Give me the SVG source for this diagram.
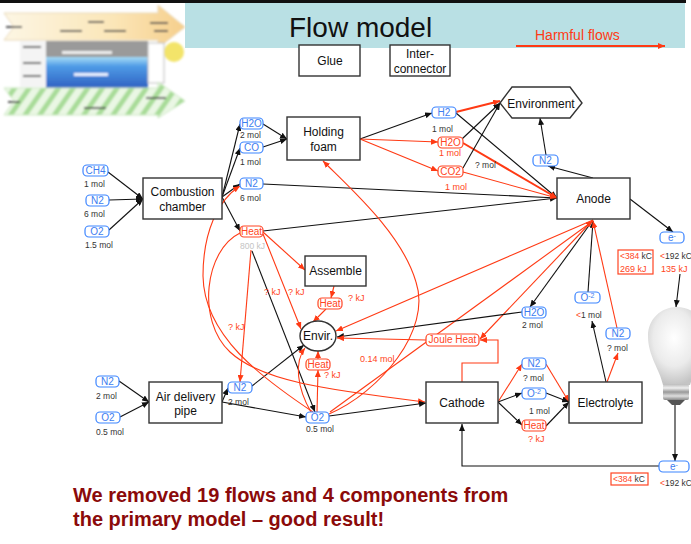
<svg xmlns="http://www.w3.org/2000/svg" width="691" height="544" viewBox="0 0 691 544">
<style>
  text { font-family: "Liberation Sans", Arial, sans-serif; }
  .box { fill: #fff; stroke: #333; stroke-width: 1.4; }
  .bt { font-size: 12px; fill: #111; text-anchor: middle; }
  .pb { fill: #fff; stroke: #3d85ff; stroke-width: 1.2; }
  .pr { fill: #fff; stroke: #ff4422; stroke-width: 1.2; }
  .tb { font-size: 10px; fill: #3d7df0; text-anchor: middle; }
  .tr { font-size: 10px; fill: #ff4422; text-anchor: middle; }
  .lbl { font-size: 8.5px; fill: #333; }
  .lr { font-size: 9px; fill: #ff4422; }
  .k { fill: none; stroke: #111; stroke-width: 1.1; marker-end: url(#ab); }
  .r { fill: none; stroke: #ff3a14; stroke-width: 1.1; marker-end: url(#ar); }
  .rt { fill: none; stroke: #ff3a14; stroke-width: 2; marker-end: url(#ar); }
</style>
<defs>
  <marker id="ab" markerUnits="userSpaceOnUse" markerWidth="7" markerHeight="6" refX="7" refY="3" orient="auto">
    <path d="M0,0 L7,3 L0,6 z" fill="#111"/>
  </marker>
  <marker id="ar" markerUnits="userSpaceOnUse" markerWidth="7" markerHeight="6" refX="7" refY="3" orient="auto">
    <path d="M0,0 L7,3 L0,6 z" fill="#ff3a14"/>
  </marker>
  <filter id="soft" x="-5%" y="-5%" width="110%" height="110%">
    <feGaussianBlur stdDeviation="1.1"/>
  </filter>
  <linearGradient id="fuel" x1="0" y1="0" x2="1" y2="0">
    <stop offset="0" stop-color="#fdf6e4"/>
    <stop offset="0.6" stop-color="#fbe6b8"/>
    <stop offset="1" stop-color="#f6cf8c"/>
  </linearGradient>
  <linearGradient id="elec" x1="0" y1="0" x2="0" y2="1">
    <stop offset="0" stop-color="#a8dcf6"/>
    <stop offset="0.3" stop-color="#4f9be6"/>
    <stop offset="1" stop-color="#2f62c2"/>
  </linearGradient>
  <pattern id="stripes" patternUnits="userSpaceOnUse" width="12" height="12" patternTransform="rotate(35)">
    <rect width="12" height="12" fill="#eaf7e4"/>
    <rect width="5" height="12" fill="#a8dc98"/>
  </pattern>
  <radialGradient id="glass" cx="0.45" cy="0.4" r="0.6">
    <stop offset="0" stop-color="#ffffff"/>
    <stop offset="0.6" stop-color="#ebebeb"/>
    <stop offset="1" stop-color="#c4c4c4"/>
  </radialGradient>
  <linearGradient id="screw" x1="0" y1="0" x2="0" y2="1">
    <stop offset="0" stop-color="#bbb"/>
    <stop offset="0.25" stop-color="#eee"/>
    <stop offset="0.5" stop-color="#999"/>
    <stop offset="0.75" stop-color="#ddd"/>
    <stop offset="1" stop-color="#888"/>
  </linearGradient>
</defs>

<rect width="691" height="544" fill="#fff"/>

<!-- header band -->
<rect x="185" y="3" width="500" height="45" fill="#b9e0e4"/>
<rect x="0" y="0" width="686" height="3" fill="#111"/>
<text x="289" y="37" font-size="28" fill="#111">Flow model</text>
<text x="535" y="40" font-size="14" fill="#ff3a14">Harmful flows</text>
<line x1="516" y1="46" x2="665" y2="46" stroke="#ff3a14" stroke-width="2" marker-end="url(#ar)"/>

<!-- fuel cell sketch, top left -->
<g id="cell-sketch" filter="url(#soft)">
  <polygon points="4,13 158,13 158,5 185,27 158,48 158,40 4,40 14,27" fill="url(#fuel)" stroke="#e8d8b8" stroke-width="1"/>
  <rect x="20" y="41" width="26" height="46" fill="#f4f4f4"/>
  <rect x="46" y="41" width="102" height="16" fill="#9a9a9a"/>
  <rect x="46" y="57" width="102" height="31" fill="url(#elec)"/>
  <rect x="148" y="43" width="16" height="40" fill="#fff" stroke="#bbb" stroke-width="1"/>
  <circle cx="174" cy="52" r="10" fill="#f3e46a"/>
  <polygon points="4,88 158,88 158,82 185,101 158,118 158,115 4,115 14,101" fill="url(#stripes)" stroke="#cde8c4" stroke-width="1"/>
  <g fill="#555">
    <rect x="6" y="26" width="16" height="2"/>
    <rect x="88" y="21" width="16" height="2"/>
    <rect x="60" y="30" width="22" height="2"/>
    <rect x="104" y="30" width="22" height="2"/>
    <rect x="150" y="22" width="18" height="2"/>
    <rect x="154" y="30" width="14" height="2"/>
    <rect x="23" y="46" width="18" height="2"/>
    <rect x="23" y="62" width="18" height="2"/>
    <rect x="23" y="75" width="18" height="2"/>
    <rect x="8" y="101" width="12" height="2"/>
    <rect x="84" y="107" width="22" height="2"/>
    <rect x="146" y="97" width="20" height="2"/>
  </g>
  <rect x="62" y="51" width="50" height="3" fill="#eee"/>
  <rect x="74" y="73" width="34" height="3" fill="#e8f0ff"/>
</g>

<!-- connectors -->
<g id="connectors">
  <!-- combustion inputs / outputs -->
  <line class="k" x1="108" y1="172" x2="143" y2="199"/>
  <line class="k" x1="109" y1="200" x2="143" y2="199"/>
  <line class="k" x1="109" y1="230" x2="143" y2="199"/>
  <line class="k" x1="222" y1="197" x2="240" y2="124"/>
  <line class="k" x1="222" y1="197" x2="240" y2="148"/>
  <line class="k" x1="222" y1="197" x2="240" y2="184"/>
  <line class="k" x1="222" y1="197" x2="240" y2="231"/>
  <line class="k" x1="263" y1="124" x2="287" y2="139"/>
  <line class="k" x1="263" y1="147" x2="287" y2="139"/>
  <!-- to anode -->
  <line class="k" x1="263" y1="184" x2="557" y2="198"/>
  <line class="k" x1="263" y1="231" x2="557" y2="198"/>
  <line class="k" x1="360" y1="139" x2="432" y2="113"/>
  <line class="k" x1="456" y1="113" x2="557" y2="198"/>
  <line class="r" x1="360" y1="139" x2="438" y2="142"/>
  <line class="r" x1="360" y1="139" x2="438" y2="171"/>
  <line class="rt" x1="456" y1="112" x2="500" y2="101"/>
  <line class="rt" x1="463" y1="143" x2="557" y2="198"/>
  <line class="r" x1="463" y1="172" x2="557" y2="198"/>
  <line class="k" x1="462" y1="139" x2="500" y2="103"/>
  <line class="k" x1="463" y1="168" x2="500" y2="103"/>
  <!-- anode neighbours -->
  <line class="k" x1="593" y1="178" x2="548" y2="166"/>
  <line class="k" x1="546" y1="155" x2="540" y2="118"/>
  <line class="k" x1="630" y1="199" x2="673" y2="232"/>
  <line class="k" x1="593" y1="220" x2="530" y2="307"/>
  <line class="k" x1="588" y1="292" x2="593" y2="221"/>
  <line class="k" x1="606" y1="382" x2="592" y2="321"/>
  <line class="r" x1="617" y1="328" x2="593" y2="221"/>
  <line class="r" x1="607" y1="382" x2="618" y2="353"/>
  <line class="r" x1="593" y1="220" x2="336" y2="331"/>
  <line class="r" x1="593" y1="220" x2="480" y2="339"/>
  <line class="r" x1="330" y1="412" x2="593" y2="221"/>
  <!-- envir inputs -->
  <line class="k" x1="522" y1="312" x2="337" y2="337"/>
  <polyline class="r" points="462,382 462,363 498,363 498,340 480,340"/>
  <line class="r" x1="426" y1="340" x2="337" y2="338"/>
  <line class="k" x1="252" y1="386" x2="304" y2="345"/>
  <line class="r" x1="263" y1="232" x2="305" y2="270"/>
  <line class="r" x1="263" y1="234" x2="301" y2="329"/>
  <line class="r" x1="251" y1="250" x2="240" y2="382"/>
  <line class="k" x1="252" y1="251" x2="315" y2="412"/>
  <line class="r" x1="334" y1="286" x2="331" y2="298"/>
  <line class="r" x1="326" y1="309" x2="313" y2="322"/>
  <line class="r" x1="317" y1="412" x2="318" y2="370"/>
  <line class="r" x1="318" y1="359" x2="318" y2="351"/>
  <path class="r" d="M311,412 C297,388 294,362 305,348"/>
  <!-- long red curves -->
  <path class="r" d="M313,412 C262,378 204,336 203,276 C203,232 218,200 240,186"/>
  <path class="r" d="M240,233 C205,250 196,320 230,352 C262,382 330,390 425,402"/>
  <path class="r" d="M329,414 C380,392 432,330 416,282 C402,234 352,190 323,161"/>
  <!-- air side -->
  <line class="k" x1="119" y1="381" x2="149" y2="402"/>
  <line class="k" x1="120" y1="417" x2="149" y2="402"/>
  <line class="k" x1="222" y1="402" x2="228" y2="388"/>
  <line class="k" x1="222" y1="402" x2="306" y2="417"/>
  <line class="k" x1="329" y1="416" x2="426" y2="403"/>
  <!-- cathode / electrolyte -->
  <line class="r" x1="498" y1="402" x2="522" y2="364"/>
  <line class="k" x1="498" y1="402" x2="522" y2="393"/>
  <line class="k" x1="498" y1="402" x2="522" y2="425"/>
  <line class="r" x1="546" y1="364" x2="569" y2="402"/>
  <line class="k" x1="546" y1="393" x2="569" y2="402"/>
  <line class="k" x1="546" y1="426" x2="569" y2="402"/>
  <!-- external circuit -->
  <line class="k" x1="680" y1="274" x2="676" y2="307"/>
  <line class="k" x1="675" y1="405" x2="675" y2="461"/>
  <polyline class="k" points="659,466 462,466 462,424"/>
</g>

<!-- components -->
<g id="glue"><rect class="box" x="299" y="45" width="61" height="31"/><text class="bt" x="330" y="65">Glue</text></g>
<g id="interconnector"><rect class="box" x="390" y="45" width="60" height="31"/><text class="bt" x="420" y="58">Inter-</text><text class="bt" x="420" y="73">connector</text></g>
<g id="combustion"><rect class="box" x="143" y="178" width="79" height="41"/><text class="bt" x="182.5" y="196">Combustion</text><text class="bt" x="182.5" y="211">chamber</text></g>
<g id="holding-foam"><rect class="box" x="287" y="117" width="73" height="43"/><text class="bt" x="323.5" y="136">Holding</text><text class="bt" x="323.5" y="151">foam</text></g>
<g id="environment"><polygon class="box" points="500,103 512,87 570,87 582,103 570,118 512,118"/><text class="bt" x="541" y="108">Environment</text></g>
<g id="anode"><rect class="box" x="557" y="178" width="73" height="41"/><text class="bt" x="593.5" y="203">Anode</text></g>
<g id="assemble"><rect class="box" x="305" y="256" width="61" height="30"/><text class="bt" x="335.5" y="275">Assemble</text></g>
<g id="envir"><ellipse class="box" cx="318" cy="336" rx="18" ry="15"/><text class="bt" x="318" y="340" font-size="11">Envir.</text></g>
<g id="air-pipe"><rect class="box" x="149" y="382" width="73" height="41"/><text class="bt" x="185.5" y="401">Air delivery</text><text class="bt" x="185.5" y="415">pipe</text></g>
<g id="cathode"><rect class="box" x="426" y="382" width="72" height="41"/><text class="bt" x="462" y="407">Cathode</text></g>
<g id="electrolyte"><rect class="box" x="569" y="382" width="73" height="41"/><text class="bt" x="605.5" y="407">Electrolyte</text></g>

<!-- flows: blue -->
<g id="ch4"><rect class="pb" x="83" y="165" width="25" height="11" rx="4"/><text class="tb" x="95.5" y="174">CH4</text><text class="lbl" x="84" y="187">1 mol</text></g>
<g id="n2-fuel"><rect class="pb" x="86" y="195" width="23" height="11" rx="4"/><text class="tb" x="97.5" y="204">N2</text><text class="lbl" x="84" y="217">6 mol</text></g>
<g id="o2-fuel"><rect class="pb" x="85" y="226" width="24" height="11" rx="4"/><text class="tb" x="97" y="235">O2</text><text class="lbl" x="85" y="248">1.5 mol</text></g>
<g id="h2o-comb"><rect class="pb" x="240" y="118" width="23" height="11" rx="4"/><text class="tb" x="251.5" y="127">H2O</text><text class="lbl" x="240" y="138">2 mol</text></g>
<g id="co-comb"><rect class="pb" x="240" y="142" width="23" height="11" rx="4"/><text class="tb" x="251.5" y="151">CO</text><text class="lbl" x="240" y="165">1 mol</text></g>
<g id="n2-comb"><rect class="pb" x="240" y="178" width="23" height="11" rx="4"/><text class="tb" x="251.5" y="187">N2</text><text class="lbl" x="240" y="201">6 mol</text></g>
<g id="h2"><rect class="pb" x="432" y="107" width="24" height="11" rx="4"/><text class="tb" x="444" y="116">H2</text><text class="lbl" x="432" y="132">1 mol</text></g>
<g id="n2-anode"><rect class="pb" x="533" y="155" width="25" height="11" rx="4"/><text class="tb" x="545.5" y="164">N2</text></g>
<g id="e-top"><rect class="pb" x="660" y="232" width="24" height="11" rx="4"/><text class="tb" x="672" y="241">e<tspan font-size="7" dy="-3">-</tspan></text></g>
<g id="h2o-cath"><rect class="pb" x="522" y="307" width="24" height="11" rx="4"/><text class="tb" x="534" y="316">H2O</text><text class="lbl" x="522" y="328">2 mol</text></g>
<g id="o2m-anode"><rect class="pb" x="575" y="292" width="25" height="11" rx="4"/><text class="tb" x="587.5" y="301">O<tspan font-size="7" dy="-3">-2</tspan></text><text class="lbl" x="576" y="318"><tspan fill="#ff4422">&lt;</tspan>1 mol</text></g>
<g id="n2-elec"><rect class="pb" x="606" y="328" width="24" height="11" rx="4"/><text class="tb" x="618" y="337">N2</text><text class="lbl" x="607" y="351">? mol</text></g>
<g id="n2-cath"><rect class="pb" x="522" y="358" width="24" height="11" rx="4"/><text class="tb" x="534" y="367">N2</text><text class="lbl" x="523" y="381">? mol</text></g>
<g id="o2m-cath"><rect class="pb" x="522" y="388" width="24" height="11" rx="4"/><text class="tb" x="534" y="397">O<tspan font-size="7" dy="-3">-2</tspan></text><text class="lbl" x="529" y="414">1 mol</text></g>
<g id="n2-air"><rect class="pb" x="96" y="376" width="23" height="11" rx="4"/><text class="tb" x="107.5" y="385">N2</text><text class="lbl" x="96" y="399">2 mol</text></g>
<g id="o2-air"><rect class="pb" x="96" y="412" width="24" height="11" rx="4"/><text class="tb" x="108" y="421">O2</text><text class="lbl" x="96" y="435">0.5 mol</text></g>
<g id="n2-pipe"><rect class="pb" x="228" y="382" width="24" height="11" rx="4"/><text class="tb" x="240" y="391">N2</text><text class="lbl" x="228" y="405">2 mol</text></g>
<g id="o2-pipe"><rect class="pb" x="306" y="412" width="23" height="11" rx="4"/><text class="tb" x="317.5" y="421">O2</text><text class="lbl" x="306" y="432">0.5 mol</text></g>
<g id="e-bottom"><rect class="pb" x="659" y="461" width="30" height="11" rx="4"/><text class="tb" x="674" y="470">e<tspan font-size="7" dy="-3">-</tspan></text></g>

<!-- flows: red -->
<g id="heat-comb"><rect class="pr" x="240" y="226" width="23" height="11" rx="4"/><text class="tr" x="251.5" y="235">Heat</text><text x="240" y="249" font-size="8.5" fill="#c4c4c4">800 kJ</text></g>
<g id="h2o-foam"><rect class="pr" x="438" y="137" width="25" height="11" rx="4"/><text class="tr" x="450.5" y="146">H2O</text><text class="lr" x="439" y="156">1 mol</text></g>
<g id="co2-foam"><rect class="pr" x="438" y="166" width="25" height="11" rx="4"/><text class="tr" x="450.5" y="175">CO2</text><text class="lr" x="445" y="190">1 mol</text></g>
<text class="lbl" x="475" y="168">? mol</text>
<g id="heat-assemble"><rect class="pr" x="318" y="298" width="24" height="11" rx="4"/><text class="tr" x="330" y="307">Heat</text><text class="lr" x="348" y="301">? kJ</text></g>
<g id="heat-o2"><rect class="pr" x="306" y="359" width="24" height="11" rx="4"/><text class="tr" x="318" y="368">Heat</text><text class="lr" x="324" y="378">? kJ</text></g>
<g id="joule-heat"><rect class="pr" x="426" y="334" width="53" height="12" rx="4"/><text class="tr" x="452.5" y="343">Joule Heat</text></g>
<g id="heat-cath"><rect class="pr" x="522" y="420" width="24" height="11" rx="4"/><text class="tr" x="534" y="429">Heat</text><text class="lr" x="528" y="442">? kJ</text></g>
<text class="lr" x="264" y="295">? kJ</text>
<text class="lr" x="288" y="295">? kJ</text>
<text class="lr" x="228" y="330">? kJ</text>
<text class="lr" x="360" y="362">0.14 mol</text>

<!-- charge / energy figures -->
<g id="anode-charge">
  <rect x="618" y="250" width="35" height="24" fill="none" stroke="#ff4422" stroke-width="1.2"/>
  <text class="lbl" x="620" y="259"><tspan fill="#ff4422">&lt;384</tspan> kC</text>
  <text class="lr" x="620" y="272" font-size="8.5">269 kJ</text>
  <text class="lbl" x="660" y="259"><tspan fill="#ff4422">&lt;</tspan>192 kC</text>
  <text class="lr" x="661" y="272" font-size="8.5">135 kJ</text>
</g>
<g id="cathode-charge">
  <rect x="611" y="473" width="37" height="12" fill="none" stroke="#ff4422" stroke-width="1.2"/>
  <text class="lbl" x="613" y="482"><tspan fill="#ff4422">&lt;384</tspan> kC</text>
  <text class="lbl" x="660" y="486"><tspan fill="#ff4422">&lt;</tspan>192 kC</text>
</g>

<!-- bulb -->
<g id="bulb">
  <path d="M663,385 C660,370 648,356 648,336 C648,319 661,307 677,307 C693,307 706,319 706,336 C706,356 694,370 690,385 Z" fill="url(#glass)"/>
  <rect x="663" y="384" width="26" height="16" rx="2" fill="url(#screw)"/>
  <path d="M667,400 L685,400 L680,405 L672,405 Z" fill="#555"/>
</g>

<text x="73" y="502" font-size="20" font-weight="bold" fill="#8b0a0a">We removed 19 flows and 4 components from</text>
<text x="73" y="526" font-size="20" font-weight="bold" fill="#8b0a0a">the primary model – good result!</text>
</svg>
